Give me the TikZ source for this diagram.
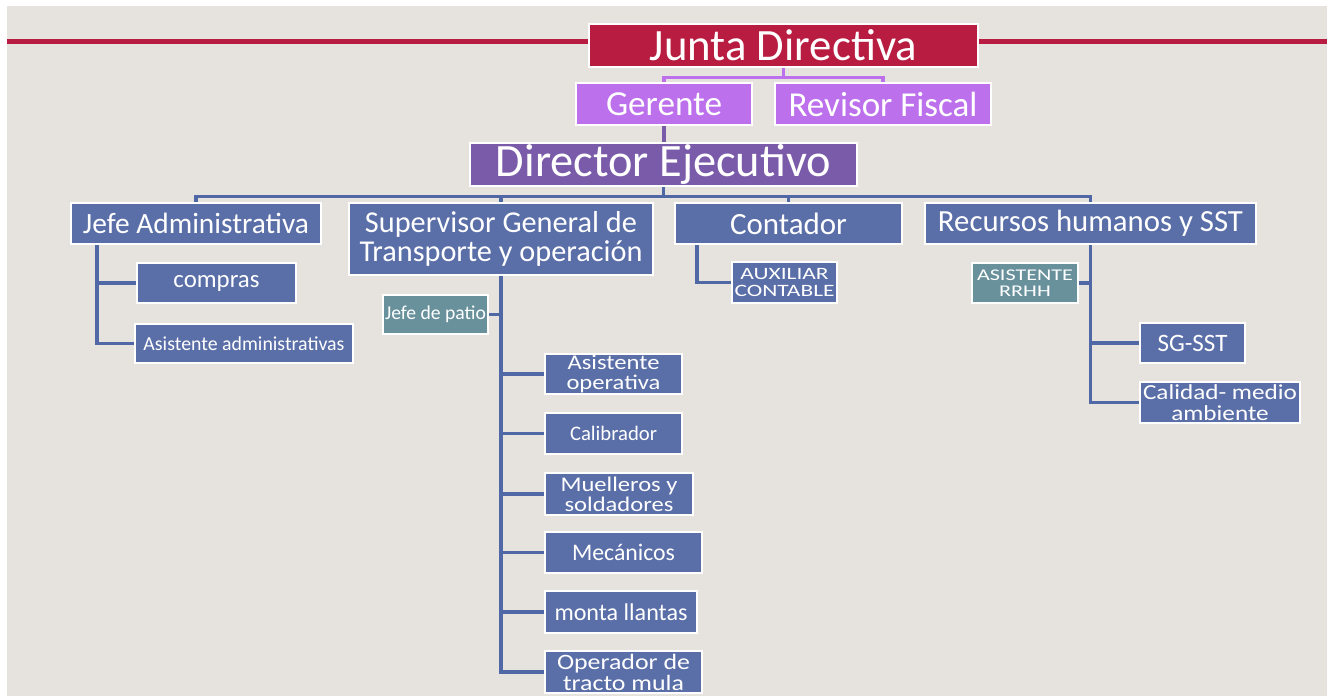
\documentclass[tikz,border=0pt]{standalone}
\usepackage{graphicx}
\usepackage{fontspec}
\setmainfont{Carlito}
\pgfdeclarelayer{bgfill}
\pgfdeclarelayer{conn}
\pgfsetlayers{bgfill,conn,main}
\newdimen\pxu \pxu=0.75pt
\newcommand\tw[3][1]{\scalebox{1}[#1]{\resizebox{#2\pxu}{!}{\vbox{\baselineskip=9.6pt\lineskiplimit=-20pt\lineskip=0pt\halign{\hfil##\hfil\cr#3\crcr}}}}}
\newcommand\obx[7]{%
  \pgfmathsetmacro\cx{(#3+#5)/2}\pgfmathsetmacro\cy{(#4+#6)/2}%
  \pgfmathsetmacro\ww{(#5-#3)*0.75}\pgfmathsetmacro\hh{(#6-#4)*0.75}%
  \node[#1, minimum width=\ww pt, minimum height=\hh pt, label={[boxtext]center:{#7}}] (#2) at (\cx,\cy) {};}
\definecolor{bgc}{HTML}{E6E3DE}
\definecolor{jdred}{HTML}{B81C40}
\definecolor{gviol}{HTML}{BC70EC}
\definecolor{dpurp}{HTML}{7A5BA9}
\definecolor{bblue}{HTML}{5A6EA8}
\definecolor{lblue}{HTML}{5068A6}
\definecolor{teal}{HTML}{68919C}
\tikzset{
  boxtext/.style={text=white, inner sep=0pt},
  box/.style={draw=white, line width=2pt, inner sep=0pt, fill=bblue},
  redbox/.style={box, fill=jdred},
  violbox/.style={box, fill=gviol},
  purpbox/.style={box, fill=dpurp},
  tealbox/.style={box, fill=teal},
  bconn/.style={draw=lblue, line width=2.3pt},
  vconn/.style={draw=gviol, line width=2.3pt},
  pconn/.style={draw=dpurp, line width=2.3pt},
  redline/.style={draw=jdred, line width=3.8pt},
}
\begin{document}
\begin{tikzpicture}[x=0.75pt,y=-0.75pt]
\useasboundingbox (0,0) rectangle (1331,696);
\begin{pgfonlayer}{bgfill}
\fill[white] (0,0) rectangle (1331,696);
\fill[bgc] (7,6) rectangle (1327,696);
\end{pgfonlayer}
% nodes
\obx{redbox}{jd}{589}{24}{978}{67}{\tw{267}{Junta Directiva}}
\obx{violbox}{ger}{576}{83}{752}{125}{\tw{116}{Gerente}}
\obx{violbox}{rev}{775}{83}{991}{125}{\tw{189}{Revisor Fiscal}}
\obx{purpbox}{dir}{470}{143}{857}{186}{\tw{335}{Director Ejecutivo}}
\obx{box}{ja}{71}{203}{321}{244}{\tw{226}{Jefe Administrativa}}
\obx{box}{sup}{349}{203}{653}{275}{\tw{283}{Supervisor General de\cr Transporte y operación}}
\obx{box}{con}{675}{203}{902}{244}{\tw{117}{Contador}}
\obx{box}{rh}{925}{203}{1256}{244}{\tw{305}{Recursos humanos y SST}}
\obx{box}{comp}{137}{263}{296}{303}{\tw{86}{compras}}
\obx{box}{asad}{135}{324}{353}{363}{\tw{201}{Asistente administrativas}}
\obx{tealbox}{jp}{383}{295}{488}{334}{\tw{101}{Jefe de patio}}
\obx{box}{asop}{545}{354}{682}{394}{\tw[0.85]{94}{Asistente\cr operativa}}
\obx{box}{cali}{545}{413}{682}{454}{\tw{87}{Calibrador}}
\obx{box}{muel}{545}{473}{693}{515}{\tw[0.85]{117}{Muelleros y\cr soldadores}}
\obx{box}{meca}{545}{532}{702}{573}{\tw{103}{Mecánicos}}
\obx{box}{mont}{545}{591}{697}{633}{\tw{133}{monta llantas}}
\obx{box}{oper}{545}{651}{702}{693}{\tw[0.85]{133}{Operador de\cr tracto mula}}
\obx{box}{aux}{732}{262}{837}{303}{\tw[0.74]{100}{AUXILIAR\cr CONTABLE}}
\obx{tealbox}{asr}{972}{263}{1078}{303}{\tw[0.74]{96}{ASISTENTE\cr RRHH}}
\obx{box}{sgsst}{1140}{323}{1245}{363}{\tw{70}{SG-SST}}
\obx{box}{cal}{1140}{382}{1300}{423}{\tw[0.85]{154}{Calidad- medio\cr ambiente}}
% free ends
\coordinate (rl) at (7,41.5);
\coordinate (rr) at (1327,41.5);
\coordinate (ja1) at (97,244);
\coordinate (co1) at (697,244);
\begin{pgfonlayer}{conn}
\draw[redline] (rl) -- (rl -| jd.west);
\draw[redline] (rr) -- (rr -| jd.east);
\draw[vconn] (jd.south) -- ++(0,9) -| (ger.north);
\draw[vconn] (jd.south) -- ++(0,9) -| (rev.north);
\draw[pconn] (ger.south) -- (ger.south |- dir.north);
\draw[bconn] (dir.south) -- ++(0,9) -| (ja.north);
\draw[bconn] (dir.south) -- ++(0,9) -| (sup.north);
\draw[bconn] (dir.south) -- ++(0,9) -| (con.north);
\draw[bconn] (dir.south) -- ++(0,9) -| (rh.north);
\draw[bconn] (ja1) |- (comp.west);
\draw[bconn] (ja1) |- (asad.west);
\draw[bconn] (jp.east) -- (jp.east -| sup.south);
\foreach \c in {asop,cali,muel,meca,mont,oper}
  \draw[bconn] (sup.south) |- (\c.west);
\draw[bconn] (co1) |- (aux.west);
\draw[bconn] (asr.east) -- (asr.east -| rh.south);
\draw[bconn] (rh.south) |- (sgsst.west);
\draw[bconn] (rh.south) |- (cal.west);
\end{pgfonlayer}
\end{tikzpicture}
\end{document}
